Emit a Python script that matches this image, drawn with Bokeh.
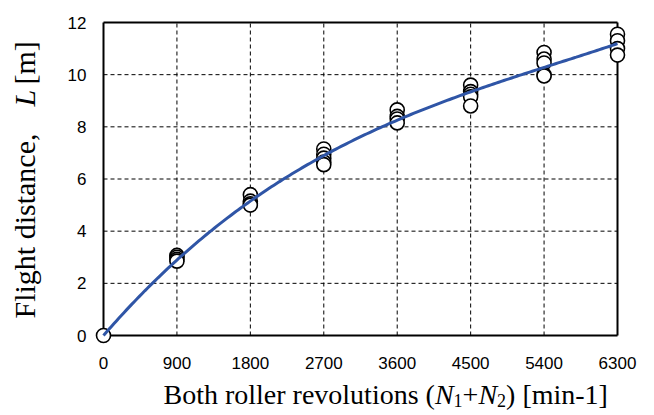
import numpy as np
from bokeh.plotting import figure
from bokeh.models import Range1d
from bokeh.core.properties import value
from bokeh.embed import file_html
from bokeh.resources import INLINE

# ---- data ----
rpm_levels = [0, 900, 1800, 2700, 3600, 4500, 5400, 6300]
distances = {
    0: [0.0],
    900: [3.07, 3.0, 2.92, 2.85],
    1800: [5.4, 5.15, 5.05, 5.0],
    2700: [7.15, 6.95, 6.8, 6.65, 6.55],
    3600: [8.65, 8.4, 8.3, 8.15],
    4500: [9.6, 9.35, 9.25, 9.15, 8.8],
    5400: [10.85, 10.6, 10.45, 10.0, 9.95],
    6300: [11.55, 11.3, 11.0, 10.75],
}
x_ticks = [0, 900, 1800, 2700, 3600, 4500, 5400, 6300]
x_tick_labels = ["0", "900", "1800", "2700", "3600", "4500", "5400", "6300"]
y_ticks = [0, 2, 4, 6, 8, 10, 12]
y_tick_labels = ["0", "2", "4", "6", "8", "10", "12"]

xs = [k for k in rpm_levels for _ in distances[k]]
ys = [v for k in rpm_levels for v in distances[k]]

# cubic trendline through the origin (least squares on the data)
X = np.array(xs, dtype=float)
Y = np.array(ys, dtype=float)
A = np.vstack([X, X**2, X**3]).T
coef, *_ = np.linalg.lstsq(A, Y, rcond=None)
xf = np.linspace(0, 6300, 200)
yf = coef[0]*xf + coef[1]*xf**2 + coef[2]*xf**3

# ---- layout (pixel geometry of the plot box on the canvas) ----
W, H = 654, 415
BL, BR, BT, BB = 103, 617, 22, 335
xmin, xmax, ymin, ymax = 0, 6300, 0, 12
xpp = (xmax - xmin) / (BR - BL)
ypp = (ymax - ymin) / (BB - BT)

def dx(px):
    return xmin + (px - BL) * xpp

def dy(py):
    return ymin + (BB - py) * ypp

p = figure(width=W, height=H, output_backend="svg", toolbar_location=None,
           x_axis_type=None, y_axis_type=None,
           x_range=Range1d(dx(0), dx(W)), y_range=Range1d(dy(H), dy(0)),
           min_border=0, min_border_left=0, min_border_right=0,
           min_border_top=0, min_border_bottom=0)
p.outline_line_color = None
p.background_fill_color = "white"
p.border_fill_color = "white"

# dashed grid lines (interior ticks)
gx = x_ticks[1:-1]
p.segment(x0=gx, y0=[ymin]*len(gx), x1=gx, y1=[ymax]*len(gx),
          line_color="black", line_width=1, line_dash="4 3")
gy = y_ticks[1:-1]
p.segment(x0=[xmin]*len(gy), y0=gy, x1=[xmax]*len(gy), y1=gy,
          line_color="black", line_width=1, line_dash="4 3")
# plot box
p.segment(x0=[xmin, xmin, xmin, xmax], y0=[ymin, ymax, ymin, ymin],
          x1=[xmax, xmax, xmin, xmax], y1=[ymin, ymax, ymax, ymax],
          line_color="black", line_width=2)

p.scatter(xs, ys, size=14, fill_color="white", line_color="black", line_width=1.6)
p.line(xf, yf, line_color="#2F55A6", line_width=3)

# ---- tick labels ----
sans = value("Liberation Sans")
p.text(x=x_ticks, y=[dy(362)]*len(x_ticks), text=x_tick_labels, text_font=sans,
       text_font_size="17px", text_color="black", text_align="center",
       text_baseline="middle")
p.text(x=[dx(86)]*len(y_ticks), y=y_ticks, text=y_tick_labels, text_font=sans,
       text_font_size="17px", text_color="black", text_align="right",
       text_baseline="middle")

# ---- axis titles built from pieces (mixed italic) ----
TW = {' ': 250, '(': 333, ')': 333, '+': 564, ',': 250, '-': 333, '1': 500, '2': 500,
      '[': 333, ']': 333, 'B': 667, 'F': 556, 'L': 611, 'N': 722,
      'a': 444, 'b': 500, 'c': 444, 'd': 500, 'e': 444, 'g': 500, 'h': 500, 'i': 278,
      'l': 278, 'm': 778, 'n': 500, 'o': 500, 'r': 333, 's': 389, 't': 278, 'u': 500, 'v': 500}
TWI = {'L': 556, 'N': 667}

def width(s, size, italic=False):
    tab = TWI if italic else TW
    return sum(tab.get(c, TW.get(c, 500)) for c in s) * size / 1000.0

FS = 28
SUB = 18
serif = value("Liberation Serif")

def piece(text, px, py, size, italic=False, angle=0.0):
    p.text(x=[dx(px)], y=[dy(py)], text=[text], angle=angle,
           text_font=serif, text_font_size=f"{size}px",
           text_font_style=value("italic" if italic else "normal"),
           text_color="black", text_align="left", text_baseline="middle")

# x title (middle line of the main text at y=394)
pieces_x = [("Both roller revolutions (", FS, False, 0), ("N", FS, True, 0), ("1", SUB, False, 6),
            ("+", FS, False, 0), ("N", FS, True, 0), ("2", SUB, False, 6), (") [min-1]", FS, False, 0)]
cx = 163
for t, s, it, ddy in pieces_x:
    piece(t, cx, 394 + ddy, s, it)
    cx += width(t, s, it)

# y title (rotated, reading upward)
YFS = 30
ymid = 24
piece("Flight distance,", ymid, 318, YFS, False, np.pi/2)
piece("L", ymid, 106, YFS, True, np.pi/2)
piece("[m]", ymid, 84, YFS, False, np.pi/2)

open("out.html", "w").write(file_html(p, INLINE))
